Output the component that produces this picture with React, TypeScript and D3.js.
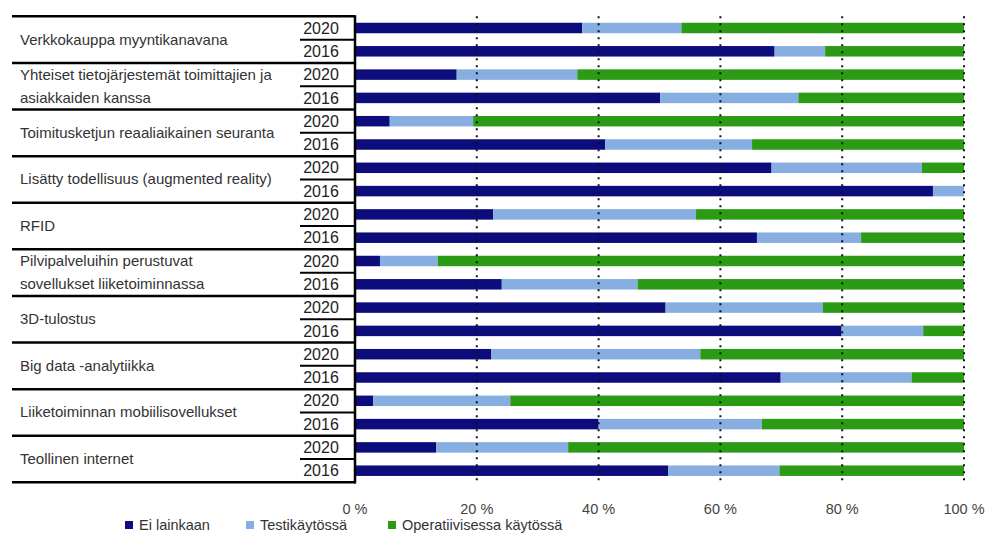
import React from "react";
import * as d3 from "d3";

const categories: string[][] = [
  ["Verkkokauppa myyntikanavana"],
  ["Yhteiset tietojärjestemät toimittajien ja", "asiakkaiden kanssa"],
  ["Toimitusketjun reaaliaikainen seuranta"],
  ["Lisätty todellisuus (augmented reality)"],
  ["RFID"],
  ["Pilvipalveluihin perustuvat", "sovellukset liiketoiminnassa"],
  ["3D-tulostus"],
  ["Big data -analytiikka"],
  ["Liiketoiminnan mobiilisovellukset"],
  ["Teollinen internet"],
];
const years = ["2020", "2016"];
const seriesNames = ["Ei lainkaan", "Testikäytössä", "Operatiivisessa käytössä"];
// per category: [2020, 2016]
const eiLainkaan: number[][] = [
  [37.3, 68.9], [16.7, 50.1], [5.7, 41.1], [68.4, 94.9], [22.7, 66.0],
  [4.1, 24.1], [51.0, 79.9], [22.4, 69.9], [3.0, 40.0], [13.3, 51.4],
];
const testikaytossa: number[][] = [
  [16.3, 8.3], [19.8, 22.7], [13.7, 24.1], [24.7, 5.1], [33.3, 17.1],
  [9.5, 22.3], [25.8, 13.4], [34.3, 21.5], [22.5, 26.8], [21.7, 18.3],
];
const operatiivisessa: number[][] = [
  [46.4, 22.8], [63.5, 27.2], [80.6, 34.8], [6.9, 0], [44.0, 16.9],
  [86.4, 53.6], [23.2, 6.7], [43.3, 8.6], [74.5, 33.2], [65.0, 30.3],
];
const ticks = [0, 20, 40, 60, 80, 100];
const colors = ["#0c0c7c", "#86aee0", "#2b9a14"];

const W = 991, H = 533;
const x0 = 355, x1 = 964;
const yTop = 16.35, yBot = 482.35;

export default function App() {
  const x = d3.scaleLinear().domain([0, 100]).range([x0, x1]);
  const rows = categories.flatMap((c, i) => years.map((yr, j) => ({ ci: i, yi: j, key: `${i}-${j}` })));
  const y = d3.scaleBand<string>().domain(rows.map((r) => r.key)).range([yTop, yBot]).paddingInner(0.55).paddingOuter(0.275);
  const step = y.step();
  const groupH = step * 2;
  const font = "'Liberation Sans', Arial, sans-serif";
  const series = [eiLainkaan, testikaytossa, operatiivisessa];

  return (
    <svg width={W} height={H} style={{ position: "absolute", left: 0, top: 0, background: "#fff" }} fontFamily={font}>
      {rows.map((r) => {
        let acc = 0;
        return series.map((s, si) => {
          const v = s[r.ci][r.yi];
          const xs = x(acc);
          acc = Math.min(100, acc + v);
          return (
            <rect key={r.key + si} x={xs} y={y(r.key)} width={Math.max(0, x(acc) - xs)} height={y.bandwidth()} fill={colors[si]} />
          );
        });
      })}
      {ticks.filter((t) => t > 0).map((t) => (
        <line key={t} x1={x(t)} x2={x(t)} y1={yTop} y2={yBot} stroke="#111" strokeWidth={2} strokeDasharray="2,5" />
      ))}
      {categories.map((c, i) => (
        <line key={"g" + i} x1={12} x2={x0} y1={yTop + i * groupH} y2={yTop + i * groupH} stroke="#000" strokeWidth={2.5} />
      ))}
      <line x1={12} x2={x0} y1={yBot} y2={yBot} stroke="#000" strokeWidth={2.5} />
      {categories.map((c, i) => (
        <line key={"s" + i} x1={300} x2={x0} y1={yTop + i * groupH + step} y2={yTop + i * groupH + step} stroke="#000" strokeWidth={2} />
      ))}
      <line x1={x0} x2={x0} y1={yTop - 1.2} y2={yBot + 1.2} stroke="#000" strokeWidth={2.5} />
      {rows.map((r) => (
        <text key={"y" + r.key} x={321} y={(y(r.key) as number) + y.bandwidth() / 2 + 5.6} textAnchor="middle" fontSize={16} fill="#222">
          {years[r.yi]}
        </text>
      ))}
      {categories.map((c, i) => {
        const cy = yTop + i * groupH + groupH / 2;
        return c.map((line, li) => (
          <text key={"c" + i + li} x={20} y={cy + 5 + (li - (c.length - 1) / 2) * 23} fontSize={15} fill="#333">
            {line}
          </text>
        ));
      })}
      {ticks.map((t) => (
        <text key={"t" + t} x={x(t)} y={514} textAnchor="middle" fontSize={14.5} fill="#444">
          {t} %
        </text>
      ))}
      {seriesNames.map((n, i) => {
        const lx = [125, 246, 388][i];
        return (
          <g key={n}>
            <rect x={lx} y={521} width={8} height={8} fill={colors[i]} />
            <text x={lx + 14} y={529.5} fontSize={14.5} fill="#333">{n}</text>
          </g>
        );
      })}
    </svg>
  );
}
